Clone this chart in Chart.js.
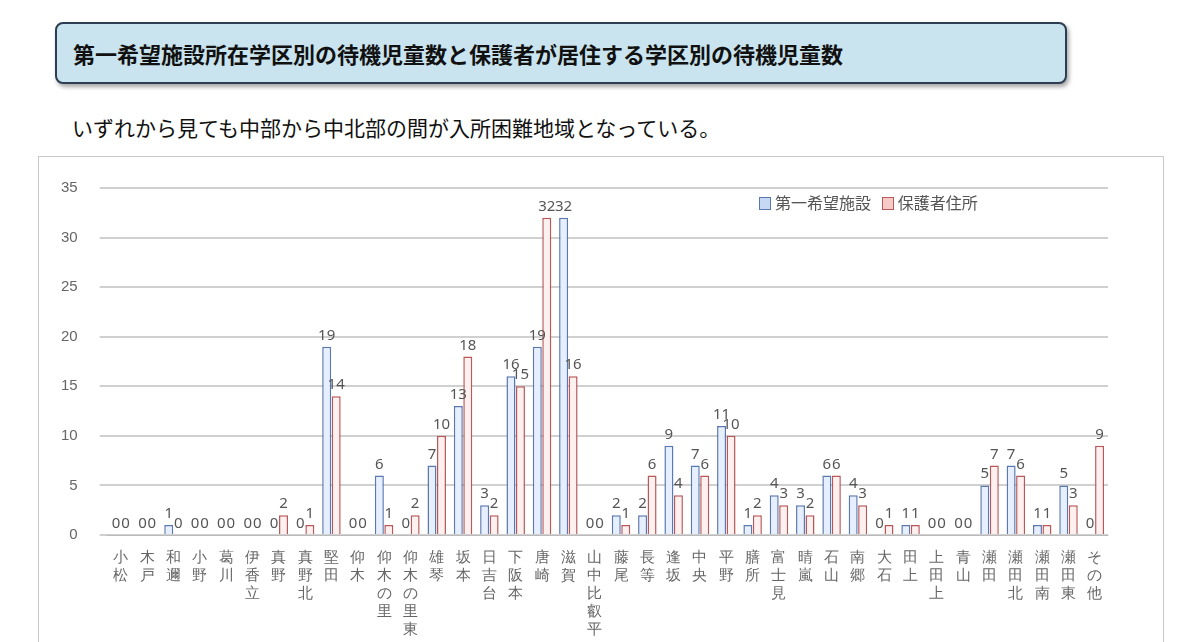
<!DOCTYPE html>
<html>
<head>
<meta charset="utf-8">
<script src="https://cdn.jsdelivr.net/npm/chart.js@4"></script>
<style>
  body { margin: 0; background: #fff; font-family: "Noto Sans CJK JP", sans-serif; }
  .title {
    position: absolute; left: 55px; top: 22px; width: 992px; height: 58px;
    background: #c9e4ee; border: 2px solid #2d3e52; border-radius: 8px;
    box-shadow: 2px 3px 4px rgba(0,0,0,0.35);
    font-size: 22px; font-weight: bold; color: #111; line-height: 58px; padding-left: 16px;
  }
  .sub { position: absolute; left: 72px; top: 112px; font-size: 21px; color: #111; }
  .panel { position: absolute; left: 38px; top: 156px; width: 1124px; height: 500px; border: 1px solid #c8c8c8; }
  .legend { position: absolute; left: 720px; top: 33px; font-size: 16px; color: #555; font-family: "Noto Sans CJK JP", sans-serif; }
  .legend span.box { display: inline-block; width: 10px; height: 11px; margin-right: 4px; vertical-align: -1px; }
</style>
</head>
<body>
<div class="title">第一希望施設所在学区別の待機児童数と保護者が居住する学区別の待機児童数</div>
<div class="sub">いずれから見ても中部から中北部の間が入所困難地域となっている。</div>
<div class="panel"><canvas id="c" width="1124" height="488"></canvas>
  <div class="legend"><span class="box" style="background:#c7d8f5;border:1px solid #5b78b0"></span>第一希望施設&nbsp;&nbsp;&nbsp;<span class="box" style="background:#f7c9c9;border:1px solid #b85858"></span>保護者住所</div>
</div>
<script>
// School districts
const districts = ['小松','木戸','和邇','小野','葛川','伊香立','真野','真野北','堅田','仰木','仰木の里','仰木の里東','雄琴','坂本','日吉台','下阪本','唐崎','滋賀','山中比叡平','藤尾','長等','逢坂','中央','平野','膳所','富士見','晴嵐','石山','南郷','大石','田上','上田上','青山','瀬田','瀬田北','瀬田南','瀬田東','その他'];
const firstChoice = [0,0,1,0,0,0,0,0,19,0,6,0,7,13,3,16,19,32,0,2,2,9,7,11,1,4,3,6,4,0,1,0,0,5,7,1,5,0];
const residence   = [0,0,0,0,0,0,2,1,14,0,1,2,10,18,2,15,32,16,0,1,6,4,6,10,2,3,2,6,3,1,1,0,0,7,6,1,3,9];
const yTicks = [0,5,10,15,20,25,30,35];

function grad(c1, c2) {
  return ctx => {
    const el = ctx.element;
    if (!el || el.x === undefined || !el.width) return c1;
    const g = ctx.chart.ctx.createLinearGradient(el.x - el.width / 2, 0, el.x + el.width / 2, 0);
    g.addColorStop(0, c1); g.addColorStop(1, c2);
    return g;
  };
}

const labelPlugin = {
  id: 'vals',
  afterDatasetsDraw(chart) {
    const c = chart.ctx;
    c.save();
    c.font = '15px "Noto Sans", sans-serif';
    c.fillStyle = '#555';
    c.textAlign = 'center';
    chart.data.datasets.forEach((ds, i) => {
      chart.getDatasetMeta(i).data.forEach((bar, j) => {
        c.fillText(ds.data[j], bar.x, bar.y - 7);
      });
    });
    c.restore();
  }
};

new Chart(document.getElementById('c'), {
  type: 'bar',
  data: {
    labels: districts.map(d => d.split('')),
    datasets: [{
      label: '第一希望施設',
      data: firstChoice,
      backgroundColor: grad('#e6efff', '#9db7e6'),
      borderColor: '#5b78b0',
      borderWidth: 1.5
    }, {
      label: '保護者住所',
      data: residence,
      backgroundColor: grad('#fff0f0', '#eba0a0'),
      borderColor: '#b85858',
      borderWidth: 1.5
    }]
  },
  options: {
    responsive: false,
    animation: false,
    layout: { padding: { left: 0, right: 55, top: 18 } },
    datasets: { bar: { categoryPercentage: 0.72, barPercentage: 0.95 } },
    plugins: {
      legend: { display: false },
      tooltip: { enabled: false }
    },
    scales: {
      x: {
        grid: { display: false },
        ticks: { color: '#666', font: { size: 15, lineHeight: 1.2 }, autoSkip: false, maxRotation: 0, padding: 6 }
      },
      y: {
        min: 0, max: 35,
        afterBuildTicks: ax => { ax.ticks = yTicks.map(v => ({ value: v })); },
        grid: { color: '#d0d0d0', lineWidth: 2 },
        border: { display: false },
        ticks: { color: '#666', font: { size: 15 }, padding: 22 }
      }
    }
  },
  plugins: [labelPlugin]
});
</script>
</body>
</html>
